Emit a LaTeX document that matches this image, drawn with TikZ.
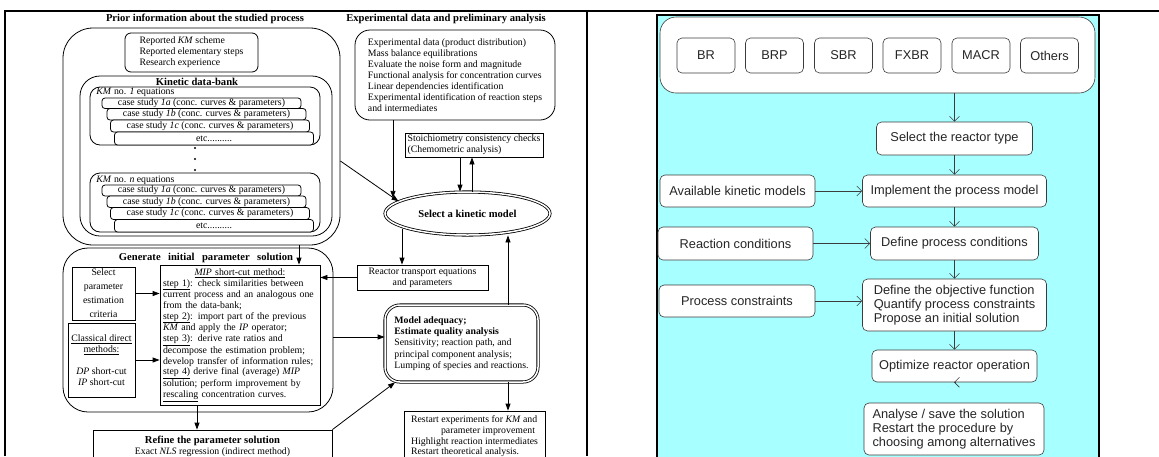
\documentclass[tikz,border=0pt]{standalone}
\usepackage{fontspec}
\setmainfont{Liberation Serif}
\newfontfamily\sansfam{Liberation Sans}
\usetikzlibrary{arrows.meta,shapes.geometric}
\definecolor{panelcyan}{RGB}{168,255,255}
\definecolor{boxline}{RGB}{60,60,60}
\newcommand{\fl}[1]{\makebox[154pt][s]{#1}}

\begin{document}
\begin{tikzpicture}[x=1pt,y=-1pt]
\useasboundingbox (0,0) rectangle (1159,456);
\fill[white] (0,0) rectangle (1159,456);
\draw[line width=2pt] (5,456) -- (5,11) -- (1159,11);
\draw[line width=2pt] (587,11) -- (587,456);

% left cell: scanned flow sheet
\begin{scope}[line width=0.8pt, >={Triangle[length=7pt,width=5pt]},
  every node/.style={font=\fontsize{9.8}{11}\selectfont, inner sep=0pt},
  ttl/.style={font=\bfseries\fontsize{10.6}{12}\selectfont},
  caserow/.style={draw, fill=white, rounded corners=3pt, minimum width=199pt}]
\node[ttl] (prt) at (205,19) {Prior information about the studied process};
\node[ttl] (expt) at (446,19) {Experimental data and preliminary analysis};

\node[draw, rounded corners=30pt, minimum width=277pt, minimum height=217pt] (prior) at (201.5,136.5) {};
\node[draw, rounded corners=6pt, minimum width=133pt, minimum height=39pt, align=left] (rep) at (191.5,52.5) {Reported \textit{KM} scheme\\Reported elementary steps\\Research experience};
\node[draw, rounded corners=20pt, minimum width=252pt, minimum height=160pt] (bank) at (206,156) {};
\node[ttl] (bankt) at (197,82) {Kinetic data-bank};

\node[draw, rounded corners=10pt, minimum width=230pt, minimum height=58pt] (kma) at (205,116) {};
\node[anchor=west] (kmat) at (96,92) {\textit{KM} no. \textit{1} equations};
\node[caserow, minimum height=10.5pt] (a1) at (201.5,103.25) {case study \textit{1a} (conc. curves \& parameters)};
\node[caserow, minimum height=11.5pt] (a2) at (206.5,114.25) {case study \textit{1b} (conc. curves \& parameters)};
\node[caserow, minimum height=12pt] (a3) at (210,126) {case study \textit{1c} (conc. curves \& parameters)};
\node[caserow, minimum height=13pt] (a4) at (214,138.5) {etc..........};

\fill (195,148) circle (1.2pt) (195,159) circle (1.2pt) (195,170) circle (1.2pt);

\node[draw, rounded corners=10pt, minimum width=230pt, minimum height=59pt] (kmn) at (205,202.5) {};
\node[anchor=west] (kmnt) at (96,180) {\textit{KM} no. \textit{n} equations};
\node[caserow, minimum height=11pt] (n1) at (201.5,190.5) {case study \textit{1a} (conc. curves \& parameters)};
\node[caserow, minimum height=11.5pt] (n2) at (206.5,201.75) {case study \textit{1b} (conc. curves \& parameters)};
\node[caserow, minimum height=12pt] (n3) at (210,213.5) {case study \textit{1c} (conc. curves \& parameters)};
\node[caserow, minimum height=12.5pt] (n4) at (214,225.75) {etc..........};

\node[draw, rounded corners=25pt, minimum width=270pt, minimum height=164pt] (gen) at (198,330) {};
\node[ttl] (gent) at (206,258) {Generate\hspace{0.7em}initial\hspace{0.7em}parameter\hspace{0.7em}solution};
\node[draw, minimum width=63pt, minimum height=53pt, align=center, font=\fontsize{9.8}{14}\selectfont] (sel) at (103.5,293.5) {Select\\parameter\\estimation\\criteria};
\node[draw, minimum width=67pt, minimum height=74pt, align=center] (cls) at (101.5,360) {\underline{Classical direct}\\\underline{methods:}\\[11pt]\textit{DP} short-cut\\\textit{IP} short-cut};
\node[draw, fill=white, text width=154pt, inner xsep=3pt, minimum height=140pt, align=left, font=\fontsize{9.8}{10.6}\selectfont] (mip) at (240,335) {%
\makebox[154pt]{\underline{\textit{MIP} short-cut method:}}\\
\fl{\underline{step 1)}: check similarities between}\\
\fl{current process and an analogous one}\\
from the data-bank;\\
\fl{\underline{step 2)}: import part of the previous}\\
\textit{KM} and apply the \textit{IP} operator;\\
\fl{\underline{step 3)}: derive rate ratios and}\\
\fl{decompose the estimation problem;}\\
develop transfer of information rules;\\
\fl{\underline{step 4)} derive final (average) \textit{MIP}}\\
\fl{solution; perform improvement by}\\
\underline{rescaling} concentration curves.};
\node[draw, minimum width=239pt, minimum height=32pt, align=center] (ref) at (212.5,446) {{\bfseries\fontsize{10.6}{12}\selectfont Refine the parameter solution}\\Exact \textit{NLS} regression (indirect method)};

\node[draw, rounded corners=15pt, minimum width=200pt, minimum height=90pt, align=left, font=\fontsize{9.8}{11.1}\selectfont] (exp) at (455,75) {Experimental data (product distribution)\\Mass balance equilibrations\\Evaluate the noise form and magnitude\\Functional analysis for concentration curves\\Linear dependencies identification\\Experimental identification of reaction steps\\and intermediates};
\node[draw, minimum width=138pt, minimum height=24pt, align=left] (sto) at (474,145) {Stoichiometry consistency checks\\(Chemometric analysis)};
\node[draw, ellipse, double, double distance=1.5pt, line width=0.8pt, minimum width=165pt, minimum height=43pt, ttl] (ell) at (467.5,213.5) {Select a kinetic model};
\node[draw, minimum width=131pt, minimum height=25pt, align=center] (rtb) at (422.5,277.5) {Reactor transport equations\\and parameters};
\node[draw, double, double distance=1.5pt, line width=0.8pt, rounded corners=15pt, minimum width=153pt, minimum height=77pt, align=left, font=\fontsize{9.8}{11.25}\selectfont] (mod) at (461.5,343.5) {\textbf{Model adequacy;}\\\textbf{Estimate quality analysis}\\Sensitivity; reaction path, and\\principal component analysis;\\Lumping of species and reactions.};
\node[draw, minimum width=141pt, minimum height=51pt, align=left, font=\fontsize{9.8}{10.7}\selectfont] (rst) at (474.5,436.5) {Restart experiments for \textit{KM} and\\\hspace*{30pt}parameter improvement\\Highlight reaction intermediates\\Restart theoretical analysis.};

\coordinate (g1) at (393,0);
\coordinate (g2) at (460,0);
\coordinate (g3) at (472,0);
\coordinate (g4) at (402,0);
\coordinate (g5) at (508,0);
\coordinate (g6) at (299,0);
\coordinate (g7) at (197,0);
\coordinate (g8) at (395,0);
\coordinate (g9) at (0,337);
\end{scope}

\begin{scope}[line width=0.8pt, >={Triangle[length=7pt,width=5pt]}, every edge/.style={draw}]
    \path [->] (exp.south -| g1) edge (g1 |- ell.165);
    \path [->] (sto.south -| g2) edge (g2 |- ell.north);
    \path [->] (g3 |- ell.north) edge (sto.south -| g3);
    \path [->] (prior.-10) edge (ell.170);
    \path [->] (g4 |- ell.195) edge (g4 |- rtb.north);
    \path [->] (rtb.west) edge (rtb.west -| mip.east);
    \path [->] (gen.east |- g9) edge (mod.west |- g9);
    \path [->] (g5 |- mod.north) edge (g5 |- ell.south);
    \path [->] (g5 |- mod.south) edge (g5 |- rst.north);
    \path [->] (g6 |- prior.south) edge (g6 |- mip.north);
    \path [->] (g7 |- mip.south) edge (g7 |- ref.north);
    \path [->] (ref.north east) edge (g8 |- mod.south);
    \path [->] (sel.east) edge (sel.east -| mip.west);
    \path [->] (cls.east) edge (cls.east -| mip.west);
\end{scope}

% right cell: reactor optimisation steps
\fill[panelcyan] (657,15) rectangle (1099,470);
\draw[line width=2pt] (657,470) -- (657,15) -- (1099,15) -- (1099,470);

\begin{scope}[line width=0.6pt, >={Straight Barb[length=5pt,width=10pt]},
  every node/.style={draw=boxline, fill=white, rounded corners=5pt, text=black!85, font=\sansfam\fontsize{12.8}{13.7}\selectfont, inner sep=0pt}]
\node[rounded corners=16pt, minimum width=435pt, minimum height=76pt] (types) at (877.5,55) {};
\node[minimum width=58pt, minimum height=35pt] (br) at (706,55.5) {BR};
\node[minimum width=58pt, minimum height=35pt] (brp) at (774.5,55.5) {BRP};
\node[minimum width=58pt, minimum height=35pt] (sbr) at (843.5,55.5) {SBR};
\node[minimum width=58pt, minimum height=35pt] (fxbr) at (912,55.5) {FXBR};
\node[minimum width=58pt, minimum height=35pt] (macr) at (981,55.5) {MACR};
\node[minimum width=58pt, minimum height=35pt] (oth) at (1049.5,55.5) {Others};

\node[minimum width=156pt, minimum height=33pt] (seltype) at (954.5,138.5) {Select the reactor type};
\node[minimum width=184pt, minimum height=32pt] (impl) at (954.5,191) {Implement the process model};
\node[minimum width=168pt, minimum height=33pt] (cond) at (954.5,243.5) {Define process conditions};
\node[minimum width=184pt, minimum height=52pt, align=left] (obj) at (954.5,305) {Define the objective function\\Quantify process constraints\\Propose an initial solution};
\node[minimum width=165pt, minimum height=32pt] (opt) at (954.5,366) {Optimize reactor operation};
\node[minimum width=180pt, minimum height=52pt, align=left] (ana) at (954,429) {Analyse / save the solution\\Restart the procedure by\\choosing among alternatives};

\node[minimum width=155pt, minimum height=32pt] (avail) at (737.5,191) {Available kinetic models};
\node[minimum width=155pt, minimum height=33pt] (react) at (735.5,243.5) {Reaction conditions};
\node[minimum width=156pt, minimum height=32pt] (constr) at (737,301) {Process constraints};
\end{scope}

\begin{scope}[line width=0.6pt, >={Straight Barb[length=5pt,width=10pt]}, every edge/.style={draw=boxline}]
    \path [->] (types.south -| seltype.north) edge (seltype.north);
    \path [->] (seltype) edge (impl);
    \path [->] (impl) edge (cond);
    \path [->] (cond) edge (obj);
    \path [->] (obj) edge (opt);
    \path [->] (opt.south) edge (opt.south -| ana.north);
    \path [->] (avail) edge (impl);
    \path [->] (react) edge (cond);
    \path [->] (constr.east) edge (constr.east -| obj.west);
\end{scope}
\end{tikzpicture}
\end{document}
